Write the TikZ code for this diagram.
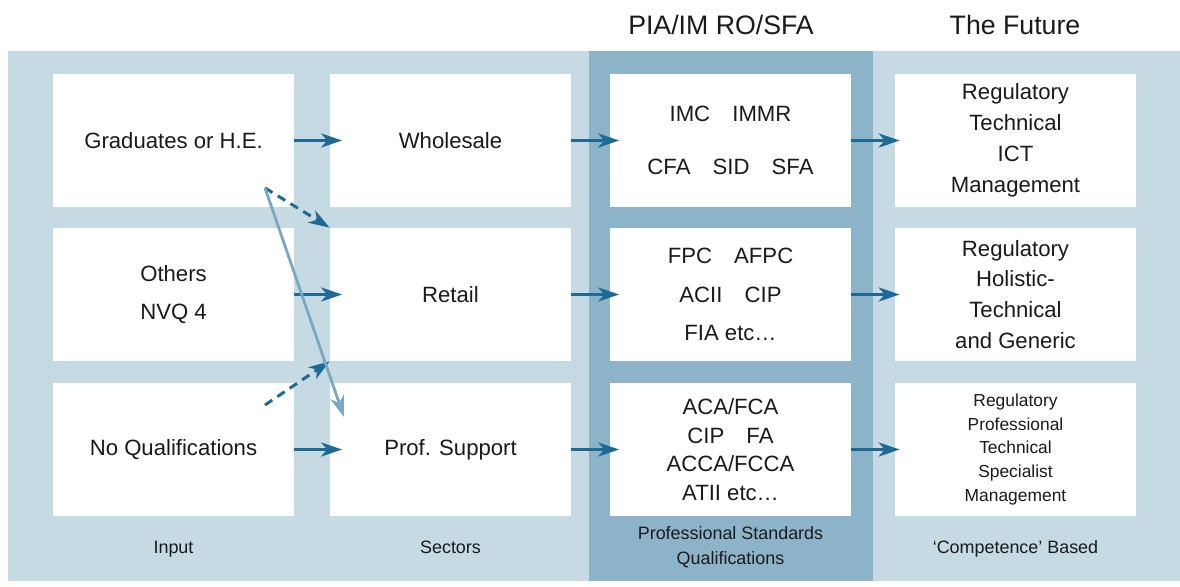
\documentclass[tikz,border=0pt]{standalone}
\usepackage{fontspec}
\setmainfont{Liberation Sans}
\usetikzlibrary{arrows.meta}
\definecolor{paleblue}{HTML}{C5DAE3}
\definecolor{bandblue}{HTML}{8DB3C9}
\definecolor{flowblue}{HTML}{1F6A94}
\definecolor{crossblue}{HTML}{7BA7C0}
\definecolor{ink}{HTML}{1A1A1A}
\begin{document}
\begin{tikzpicture}[x=0.02cm, y=-0.02cm,
                box/.style = {fill=white, minimum width=4.82cm, minimum height=2.66cm,
                              inner sep=0pt, align=center, text=ink,
                              font=\fontsize{12.6}{17.6}\selectfont},
                smallbox/.style = {box, font=\fontsize{9.9}{13.6}\selectfont},
                caption/.style = {align=center, text=ink, font=\fontsize{10.2}{14.2}\selectfont},
                heading/.style = {text=ink, font=\fontsize{15.2}{19}\selectfont},
                tip/.style = {-{Stealth[length=12pt,width=8pt,inset=3.5pt]}},
                flow/.style = {flowblue, line width=1.7pt, tip},
                maybe/.style = {flowblue, line width=1.7pt, tip, dash pattern=on 5pt off 3.5pt},
                cross/.style = {crossblue, line width=1.6pt, tip}]
                \useasboundingbox (0,0) rectangle (1180,587);
                \fill[paleblue] (8,51) rectangle (1180,581);
                \fill[bandblue] (589,51) rectangle (873,581);

                \node[heading] (hqual) at (721,25) {PIA/IM RO/SFA};
                \node[heading] (hfut) at (1015,25) {The Future};

                % input column
                \node[box] (in1) at (173.5,140.5) {Graduates or H.E.};
                \node[box] (in2) at (173.5,294.5) {Others\\[4pt]NVQ 4};
                \node[box] (in3) at (173.5,449.5) {No Qualifications};

                % sectors
                \node[box] (sec1) at (450.5,140.5) {Wholesale};
                \node[box] (sec2) at (450.5,294.5) {Retail};
                \node[box] (sec3) at (450.5,449.5) {Prof. Support};

                % qualifications
                \node[box] (qual1) at (730.5,140.5)
                    {IMC\quad IMMR\\[13pt]CFA\quad SID\quad SFA};
                \node[box] (qual2) at (730.5,294.5)
                    {FPC\quad AFPC\\[4.5pt]ACII\quad CIP\\[4.5pt]FIA etc\ldots};
                \node[box] (qual3) at (730.5,449.5)
                    {ACA/FCA\\[-1.4pt]CIP\quad FA\\[-1.4pt]ACCA/FCCA\\[-1.4pt]ATII etc\ldots};

                % future
                \node[box] (fut1) at (1015.5,140.5)
                    {Regulatory\\Technical\\ICT\\Management};
                \node[box] (fut2) at (1015.5,294.5)
                    {Regulatory\\Holistic-\\Technical\\and Generic};
                \node[smallbox] (fut3) at (1015.5,449.5)
                    {Regulatory\\Professional\\Technical\\Specialist\\Management};

                \node[caption, anchor=base] (cin) at (173.5,553) {Input};
                \node[caption, anchor=base] (csec) at (450.5,553) {Sectors};
                \node[caption] (cqual) at (730.5,547) {Professional Standards\\Qualifications};
                \node[caption, anchor=base] (cfut) at (1015.5,553) {`Competence' Based};

                \foreach \row in {1,2,3} {
                    \draw[flow, shorten >=-0.25cm] (in\row) -- (sec\row);
                    \draw[flow, shorten >=-0.19cm] (sec\row) -- (qual\row);
                    \draw[flow, shorten >=-0.1cm] (qual\row) -- (fut\row);
                }

                \coordinate (fork) at (265,188);
                \coordinate (rise) at (265,405);
                \coordinate (drop) at (344,417);
                \draw[maybe] (fork) -- (sec2.north west);
                \draw[maybe] (rise) -- (sec2.south west);
                \draw[cross] (fork) -- (drop);
            \end{tikzpicture}
\end{document}
